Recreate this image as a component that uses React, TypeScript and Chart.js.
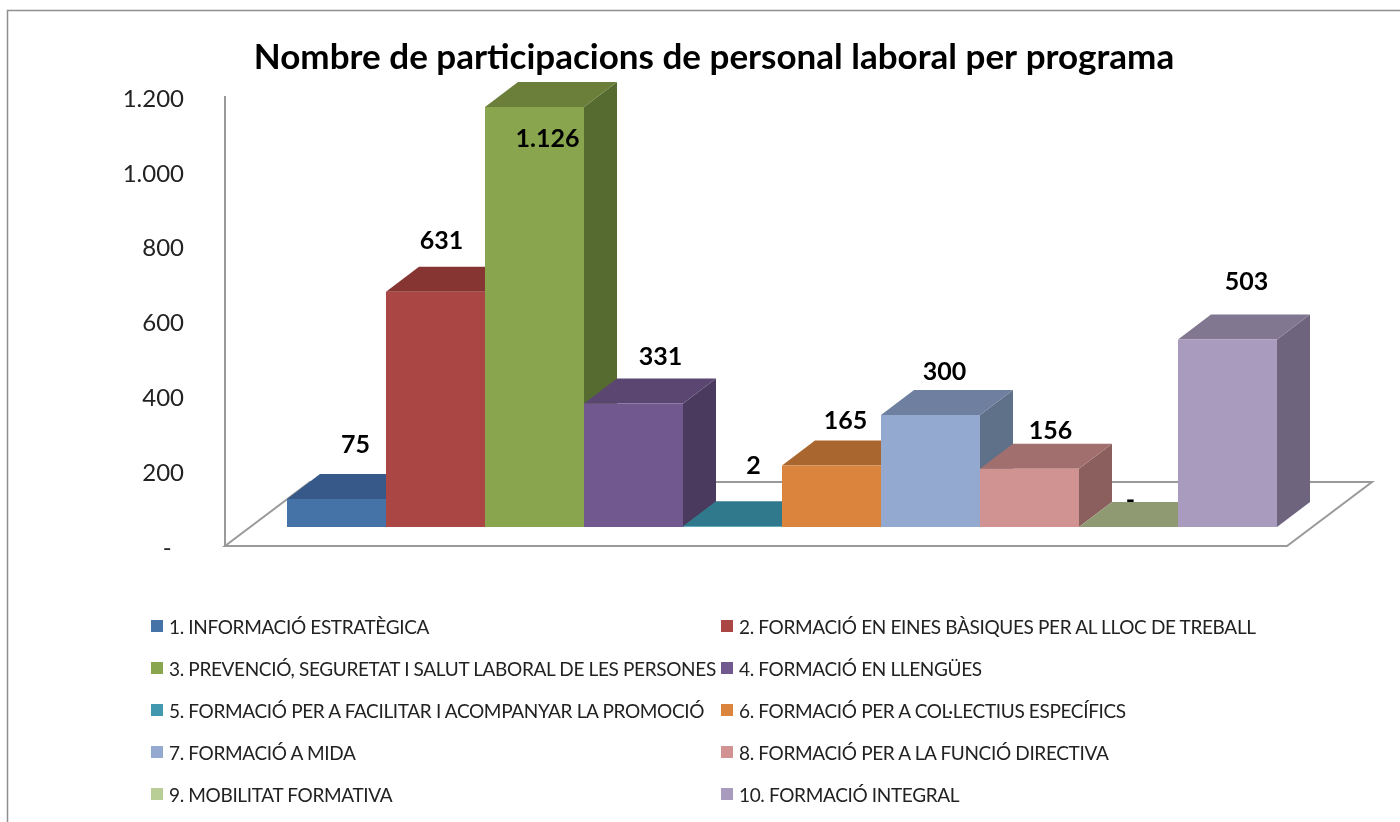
import React, { useEffect, useRef } from "react";
import { Chart, registerables } from "chart.js";

Chart.register(...registerables);

const chartTitle = "Nombre de participacions de personal laboral per programa";
const programmes = [
  "1. INFORMACIÓ ESTRATÈGICA",
  "2. FORMACIÓ EN EINES BÀSIQUES PER AL LLOC DE TREBALL",
  "3. PREVENCIÓ, SEGURETAT I SALUT LABORAL DE LES PERSONES",
  "4. FORMACIÓ EN LLENGÜES",
  "5. FORMACIÓ PER A FACILITAR I ACOMPANYAR LA PROMOCIÓ",
  "6. FORMACIÓ PER A COL·LECTIUS ESPECÍFICS",
  "7. FORMACIÓ A MIDA",
  "8. FORMACIÓ PER A LA FUNCIÓ DIRECTIVA",
  "9. MOBILITAT FORMATIVA",
  "10. FORMACIÓ INTEGRAL",
];
const participations = [75, 631, 1126, 331, 2, 165, 300, 156, 0, 503];
const tickValues = [0, 200, 400, 600, 800, 1000, 1200];

const frontColors = ["#4573a7", "#aa4644", "#89a54e", "#71588f", "#4198af", "#db843d", "#93a9cf", "#d19392", "#b9cd96", "#a99bbd"];
const topColors = ["#37598a", "#873533", "#6b7f3a", "#5a4670", "#30788c", "#a9662e", "#6e7f9f", "#a16f6e", "#8f9a72", "#817791"];
const sideColors = ["#2e4a70", "#6e2c2a", "#566b2f", "#4a3a5e", "#28647a", "#8c5526", "#5f7089", "#8a5f5e", "#77815f", "#6e647d"];

// label nudges relative to each bar's top-centre
const labelDx = [19, 6, 13, 27, 21, 14, 14, 21, 2, 19];
const labelDy = [-54, -51, 32, -47, -60, -45, -43, -38, -27, -57];

const DEPTH_X = 33;
const DEPTH_Y = 25;
const AXIS_COLOR = "#9a9a9a";
const FONT = "Lato";

const formatValue = (v: number) =>
  v === 0 ? "-" : String(v).replace(/\B(?=(\d{3})+$)/g, ".");

function poly(ctx: CanvasRenderingContext2D, pts: number[][], fill: string) {
  ctx.beginPath();
  pts.forEach((p, i) => (i ? ctx.lineTo(p[0], p[1]) : ctx.moveTo(p[0], p[1])));
  ctx.closePath();
  ctx.fillStyle = fill;
  ctx.fill();
}

const threeD = {
  id: "threeD",
  afterLayout(chart: any) {
    // title is centred a little right of the canvas middle
    chart.titleBlock.left += 44.5;
    chart.titleBlock.right += 44.5;
  },
  beforeDatasetsDraw(chart: any) {
    const ctx: CanvasRenderingContext2D = chart.ctx;
    const { left, bottom } = chart.chartArea;
    const floorRight = left + 1062;
    ctx.save();
    // outer frame
    ctx.strokeStyle = "#8f8f8f";
    ctx.lineWidth = 1.5;
    ctx.beginPath();
    ctx.moveTo(7.5, 822);
    ctx.lineTo(7.5, 10.5);
    ctx.lineTo(1400, 10.5);
    ctx.stroke();
    // floor
    ctx.strokeStyle = AXIS_COLOR;
    ctx.lineWidth = 2;
    ctx.beginPath();
    ctx.moveTo(left, bottom);
    ctx.lineTo(floorRight, bottom);
    ctx.lineTo(floorRight + 85, bottom - 64);
    ctx.lineTo(left + 85, bottom - 64);
    ctx.closePath();
    ctx.stroke();
    // top and side faces of the bars
    chart.data.datasets.forEach((_: any, i: number) => {
      const bar = chart.getDatasetMeta(i).data[0];
      const { x, y, base, width } = bar.getProps(["x", "y", "base", "width"], true);
      const l = x - width / 2;
      const r = x + width / 2;
      poly(ctx, [[r, y], [r + DEPTH_X, y - DEPTH_Y], [r + DEPTH_X, base - DEPTH_Y], [r, base]], sideColors[i]);
      poly(ctx, [[l, y], [r, y], [r + DEPTH_X, y - DEPTH_Y], [l + DEPTH_X, y - DEPTH_Y]], topColors[i]);
    });
    ctx.restore();
  },
  afterDatasetsDraw(chart: any) {
    const ctx: CanvasRenderingContext2D = chart.ctx;
    ctx.save();
    ctx.font = `bold 25px ${FONT}`;
    ctx.fillStyle = "#000";
    ctx.textAlign = "center";
    ctx.textBaseline = "middle";
    chart.data.datasets.forEach((ds: any, i: number) => {
      const bar = chart.getDatasetMeta(i).data[0];
      ctx.fillText(formatValue(ds.data[0]), bar.x + labelDx[i], bar.y + labelDy[i]);
    });
    ctx.restore();
  },
};

export default function App() {
  const ref = useRef<HTMLCanvasElement>(null);
  useEffect(() => {
    const chart = new Chart(ref.current!, {
      type: "bar",
      plugins: [threeD],
      data: {
        labels: ["Participacions"],
        datasets: programmes.map((label, i) => ({
          label,
          data: [participations[i]],
          backgroundColor: frontColors[i],
          borderWidth: 0,
          yAxisID: "yBars",
          categoryPercentage: 990 / 1114,
          barPercentage: 1,
        })),
      },
      options: {
        responsive: false,
        animation: false,
        layout: { padding: { left: 0, right: 61, top: 32, bottom: 276 } },
        plugins: {
          legend: { display: false },
          tooltip: { enabled: false },
          title: {
            display: true,
            text: chartTitle,
            color: "#000",
            font: { family: FONT, size: 35, weight: "bold", lineHeight: 1 },
            padding: { top: 8, bottom: 22 },
          },
        },
        scales: {
          x: { display: false },
          y: {
            position: "left",
            min: 0,
            max: 1200,
            afterBuildTicks: (s: any) => {
              s.ticks = tickValues.map((value) => ({ value }));
            },
            afterFit: (s: any) => {
              s.width = 225;
            },
            grid: { display: false, drawTicks: false },
            border: { display: true, color: AXIS_COLOR, width: 2 },
            ticks: {
              color: "#222",
              padding: 41,
              labelOffset: 2,
              font: { family: FONT, size: 24 },
              callback: (v: any) => (Number(v) === 0 ? "-  " : formatValue(Number(v))),
            },
          },
          yBars: { display: false, min: -51, max: 1153 },
        },
      },
    } as any);
    return () => chart.destroy();
  }, []);

  return (
    <div style={{ position: "absolute", left: 0, top: 0, width: 1400, height: 822, overflow: "hidden", background: "#fff" }}>
      <canvas ref={ref} width={1400} height={822} style={{ display: "block" }} />
      {programmes.map((label, i) => (
        <div
          key={label}
          style={{
            position: "absolute",
            left: i % 2 ? 721 : 151,
            top: 626 + 42 * Math.floor(i / 2) - 15,
            height: 30,
            display: "flex",
            alignItems: "center",
            whiteSpace: "nowrap",
            fontFamily: FONT,
            fontSize: 19,
            letterSpacing: "-0.35px",
            color: "#222",
          }}
        >
          <span style={{ width: 12, height: 12, background: frontColors[i], marginRight: 6, flex: "none" }} />
          <span>{label}</span>
        </div>
      ))}
    </div>
  );
}
